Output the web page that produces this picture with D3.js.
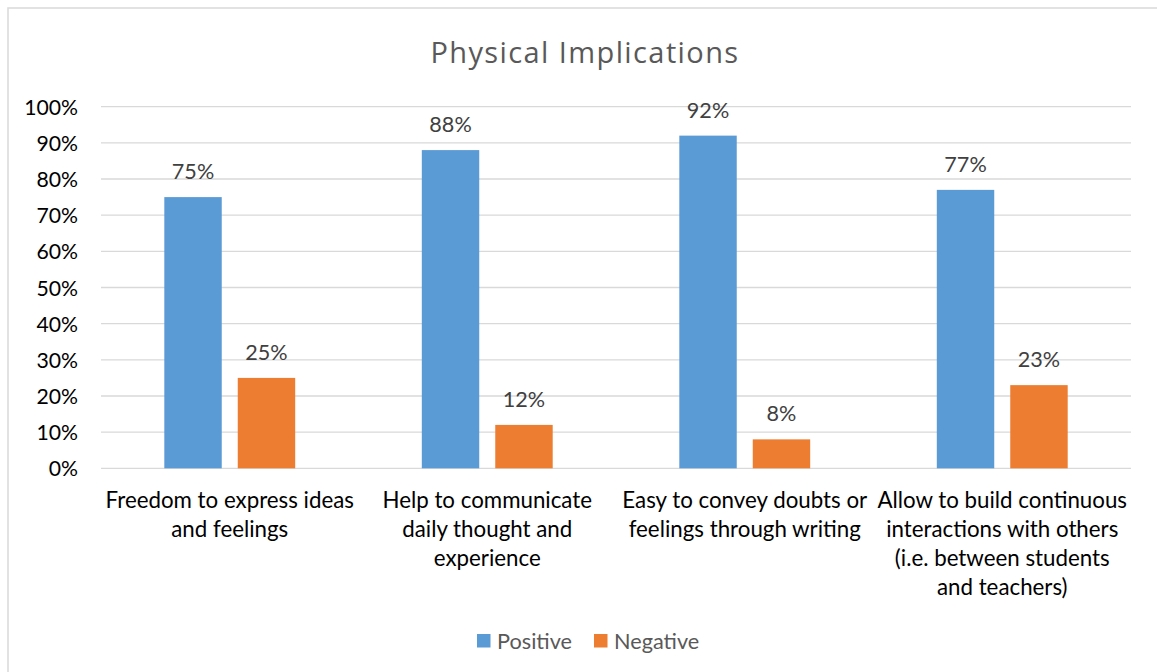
<!DOCTYPE html>
<html>
<head>
<meta charset="utf-8">
<script src="https://cdn.jsdelivr.net/npm/d3@7"></script>
<style>
  html, body { margin: 0; padding: 0; background: #fff; }
  svg { display: block; font-family: Lato, "Open Sans", sans-serif; }
</style>
</head>
<body>
<svg id="chart" width="1157" height="672"></svg>
<script>
const title = "Physical Implications";
const categories = [
  ["Freedom to express ideas", "and feelings"],
  ["Help to communicate", "daily thought and", "experience"],
  ["Easy to convey doubts or", "feelings through writing"],
  ["Allow to build continuous", "interactions with others", "(i.e. between students", "and teachers)"]
];
const seriesNames = ["Positive", "Negative"];
const positive = [0.75, 0.88, 0.92, 0.77];
const negative = [0.25, 0.12, 0.08, 0.23];
const yTicks = [0, 0.1, 0.2, 0.3, 0.4, 0.5, 0.6, 0.7, 0.8, 0.9, 1.0];
const colors = ["#5B9BD5", "#ED7D31"];

const svg = d3.select("#chart");
const W = 1157, H = 672;

// chart border
svg.append("rect").attr("x", 8).attr("y", 8).attr("width", W + 10).attr("height", H + 10)
  .attr("fill", "#fff").attr("stroke", "#d9d9d9").attr("stroke-width", 1.5);

const catIdx = categories.map((c, i) => i);
const x0 = d3.scaleBand().domain(catIdx).range([101, 1131]).paddingInner(0).paddingOuter(0);
const x1 = d3.scaleBand().domain(seriesNames).range([0, x0.bandwidth()]).paddingInner(0.218).paddingOuter(0.862);
const y = d3.scaleLinear().domain([0, 1]).range([468.3, 106.7]);

// title
svg.append("text").attr("x", 585).attr("y", 62.5).attr("text-anchor", "middle")
  .attr("font-family", "'Open Sans', sans-serif").attr("letter-spacing", 1.4)
  .attr("fill", "#595959").attr("font-size", 29).text(title);

// gridlines
svg.append("g").selectAll("line").data(yTicks).join("line")
  .attr("x1", 101).attr("x2", 1131)
  .attr("y1", d => y(d)).attr("y2", d => y(d))
  .attr("stroke", "#d9d9d9").attr("stroke-width", 1.3);

// y axis labels
const yAxis = d3.axisLeft(y).tickValues(yTicks).tickFormat(d3.format(".0%")).tickSize(0).tickPadding(0);
const ya = svg.append("g").attr("transform", "translate(78,0)").call(yAxis);
ya.select(".domain").remove();
ya.selectAll("text").attr("font-family", "Lato, sans-serif").attr("font-size", 21.2).attr("fill", "#000")
  .attr("dy", "0.36em");

// bars
const series = [positive, negative];
const groups = svg.append("g").selectAll("g").data(series).join("g")
  .attr("fill", (d, i) => colors[i]);
groups.each(function(vals, si) {
  const g = d3.select(this);
  g.selectAll("rect").data(vals).join("rect")
    .attr("x", (d, i) => x0(i) + x1(seriesNames[si]))
    .attr("width", x1.bandwidth())
    .attr("y", d => y(d))
    .attr("height", d => y(0) - y(d));
  svg.append("g").selectAll("text").data(vals).join("text")
    .attr("x", (d, i) => x0(i) + x1(seriesNames[si]) + x1.bandwidth() / 2)
    .attr("y", d => y(d) - 18)
    .attr("text-anchor", "middle").attr("fill", "#404040").attr("font-size", 21.6)
    .text(d => d3.format(".0%")(d));
});

// category labels
const cl = svg.append("g").selectAll("text").data(categories).join("text")
  .attr("x", (d, i) => x0(i) + x0.bandwidth() / 2)
  .attr("y", 507.5).attr("text-anchor", "middle").attr("fill", "#000").attr("font-size", 22.3);
cl.selectAll("tspan").data(d => d).join("tspan")
  .attr("x", function() { return d3.select(this.parentNode).attr("x"); })
  .attr("dy", (d, i) => i === 0 ? 0 : 29)
  .text(d => d);

// legend
const legendX = [477, 594];
const lg = svg.append("g").selectAll("g").data(seriesNames).join("g")
  .attr("transform", (d, i) => `translate(${legendX[i]},634)`);
lg.append("rect").attr("width", 13.5).attr("height", 13.5).attr("fill", (d, i) => colors[i]);
lg.append("text").attr("x", 20).attr("y", 14.5).attr("fill", "#595959").attr("font-size", 21.7).text(d => d);
</script>
</body>
</html>
